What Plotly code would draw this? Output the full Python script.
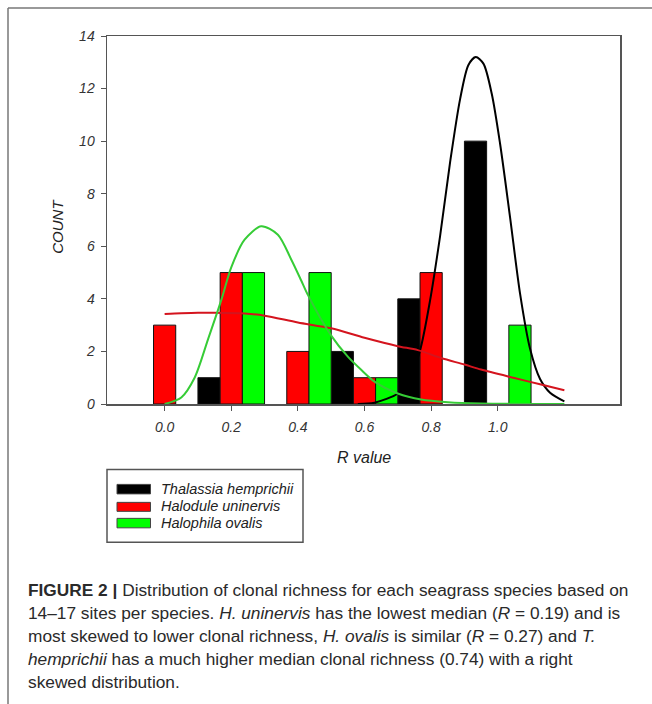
import plotly.graph_objects as go

# ---------------- data ----------------
bin_centers = [0.0, 0.2, 0.4, 0.6, 0.8, 1.0]
tick_labels = ["0.0", "0.2", "0.4", "0.6", "0.8", "1.0"]
species = ["Thalassia hemprichii", "Halodule uninervis", "Halophila ovalis"]
thalassia_counts = [0, 1, 0, 2, 4, 10]
halodule_counts = [3, 5, 2, 1, 5, 0]
halophila_counts = [0, 5, 5, 1, 0, 3]

# fitted curves
thal_curve_x = [0.58, 0.63, 0.70, 0.735, 0.767, 0.797, 0.827, 0.857, 0.887, 0.912, 0.934,
                0.957, 0.982, 1.007, 1.037, 1.067, 1.097, 1.127, 1.157, 1.20]
thal_curve_y = [0.0, 0.05, 0.40, 0.95, 2.05, 3.95, 6.40, 9.20, 11.6, 12.9, 13.2,
                12.95, 11.8, 9.9, 7.1, 4.2, 2.1, 0.95, 0.43, 0.1]
halo_curve_x = [0.0, 0.05, 0.10, 0.15, 0.24, 0.30, 0.40, 0.50, 0.60, 0.70, 0.76,
                0.83, 0.90, 0.95, 1.05, 1.13, 1.20]
halo_curve_y = [3.42, 3.45, 3.47, 3.47, 3.44, 3.36, 3.10, 2.88, 2.52, 2.20, 2.05,
                1.75, 1.50, 1.31, 0.99, 0.74, 0.52]
ova_curve_x = [0.0, 0.05, 0.09, 0.13, 0.17, 0.20, 0.24, 0.29, 0.34, 0.38, 0.41, 0.43,
               0.50, 0.55, 0.59, 0.63, 0.70, 0.77, 0.85, 0.95, 1.20]
ova_curve_y = [0.0, 0.25, 1.0, 2.45, 3.95, 5.2, 6.25, 6.76, 6.44, 5.5, 4.7, 4.15,
               2.6, 1.8, 1.3, 0.85, 0.4, 0.17, 0.07, 0.02, 0.0]

bar_colors = ["#000000", "#ff0000", "#00ff00"]
curve_colors = ["#000000", "#d4141e", "#36cc36"]

caption_lines = [
    "<b>FIGURE 2 |</b> Distribution of clonal richness for each seagrass species based on",
    "14–17 sites per species. <i>H. uninervis</i> has the lowest median (<i>R</i> = 0.19) and is",
    "most skewed to lower clonal richness, <i>H. ovalis</i> is similar (<i>R</i> = 0.27) and <i>T.</i>",
    "<i>hemprichii</i> has a much higher median clonal richness (0.74) with a right",
    "skewed distribution.",
]

# ---------------- layout geometry (pixels) ----------------
W, H = 652, 704
L, R_, T, B = 107, 620, 36, 404.5
PW, PH = R_ - L, B - T


def px(x):
    return (x - L) / PW


def py(y):
    return (B - y) / PH


FONT = "Liberation Sans, Arial, sans-serif"

fig = go.Figure()
for name, counts, col in zip(species, [thalassia_counts, halodule_counts, halophila_counts], bar_colors):
    fig.add_trace(go.Bar(x=bin_centers, y=counts, name=name,
                         marker=dict(color=col, line=dict(color="#111", width=[1 if c > 0 else 0 for c in counts])),
                         showlegend=False, hoverinfo="skip"))

for cx, cy, col in zip([thal_curve_x, halo_curve_x, ova_curve_x],
                       [thal_curve_y, halo_curve_y, ova_curve_y], curve_colors):
    fig.add_trace(go.Scatter(x=cx, y=cy, mode="lines",
                             line=dict(color=col, width=2, shape="spline", smoothing=0.8),
                             showlegend=False, hoverinfo="skip"))

shapes = []
annotations = []

# outer frame (figure border, cropped on the right/bottom)
shapes.append(dict(type="line", xref="paper", yref="paper", x0=px(8), x1=px(700), y0=py(8), y1=py(8),
                   line=dict(color="#777", width=1.5)))
shapes.append(dict(type="line", xref="paper", yref="paper", x0=px(8), x1=px(8), y0=py(8), y1=py(760),
                   line=dict(color="#777", width=1.5)))

# legend box
shapes.append(dict(type="rect", xref="paper", yref="paper", x0=px(107), x1=px(303), y0=py(543), y1=py(470),
                   line=dict(color="#555", width=1.5), fillcolor="white"))
sw_y = [(485, 494.5), (503, 512), (519, 528.5)]
txt_y = [490, 507, 524]
for (ya, yb), ty, col, name in zip(sw_y, txt_y, bar_colors, species):
    shapes.append(dict(type="rect", xref="paper", yref="paper", x0=px(117), x1=px(150.5), y0=py(yb), y1=py(ya),
                       line=dict(color="#444", width=1), fillcolor=col))
    annotations.append(dict(xref="paper", yref="paper", x=px(159), y=py(ty), text=name, showarrow=False,
                            xanchor="left", yanchor="middle",
                            font=dict(family=FONT, size=14.5, color="#222", style="italic")))

# axis titles
annotations.append(dict(xref="paper", yref="paper", x=px(58), y=py(227), text="COUNT", textangle=-90,
                        showarrow=False, xanchor="center", yanchor="middle",
                        font=dict(family=FONT, size=15, color="#222", style="italic")))
annotations.append(dict(xref="paper", yref="paper", x=px(364), y=py(458), text="R value",
                        showarrow=False, xanchor="center", yanchor="middle",
                        font=dict(family=FONT, size=16, color="#222", style="italic")))

# caption
cap_y = [591, 614, 637, 660, 683]
for line, yy in zip(caption_lines, cap_y):
    annotations.append(dict(xref="paper", yref="paper", x=px(26), y=py(yy), text=line, showarrow=False,
                            xanchor="left", yanchor="middle", align="left",
                            font=dict(family=FONT, size=17.3, color="#2a2a2a")))

fig.update_layout(
    width=W, height=H, autosize=False,
    margin=dict(l=L, r=W - R_, t=T, b=H - B, pad=0),
    paper_bgcolor="white", plot_bgcolor="white",
    barmode="group", bargap=0, bargroupgap=0,
    shapes=shapes, annotations=annotations,
    font=dict(family=FONT),
)
fig.update_xaxes(range=[-0.173, 1.367], tickvals=bin_centers, ticktext=tick_labels,
                 showgrid=False, zeroline=False, showline=True, mirror=True, linecolor="#555", linewidth=1.5,
                 ticks="outside", ticklen=5, tickcolor="#555", tickwidth=1, ticklabelstandoff=5,
                 tickfont=dict(family=FONT, size=14, color="#333", style="italic"))
fig.update_yaxes(range=[0, 14], dtick=2, tick0=0,
                 showgrid=False, zeroline=False, showline=True, mirror=True, linecolor="#555", linewidth=1.5,
                 ticks="outside", ticklen=5, tickcolor="#555", tickwidth=1, ticklabelstandoff=3,
                 tickfont=dict(family=FONT, size=14, color="#333", style="italic"))

fig.write_html("out.html", config={"displayModeBar": False, "staticPlot": True},
               post_script="document.body.style.margin='0px';document.body.style.padding='0px';")
